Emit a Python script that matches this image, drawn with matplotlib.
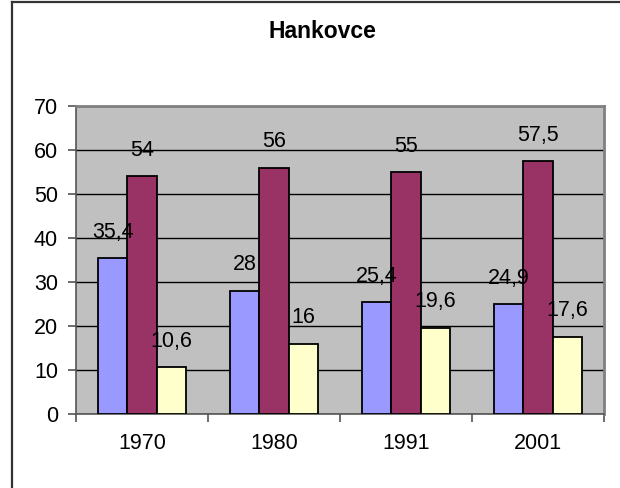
import matplotlib

matplotlib.use("Agg")
import matplotlib.pyplot as plt
from matplotlib.lines import Line2D
import numpy as np

YEARS = ["1970", "1980", "1991", "2001"]
SERIES_A = [35.4, 28, 25.4, 24.9]
SERIES_B = [54, 56, 55, 57.5]
SERIES_C = [10.6, 16, 19.6, 17.6]
COLORS = ["#9999FF", "#993366", "#FFFFCC"]
YTICKS = [0, 10, 20, 30, 40, 50, 60, 70]

plt.rcParams.update(
    {
        "font.family": ["Liberation Sans", "DejaVu Sans"],
        "font.size": 15,
    }
)

W, H = 620, 488
fig = plt.figure(figsize=(W / 100.0, H / 100.0), dpi=100)
fig.patch.set_facecolor("white")

# chart-area border (only top and left fall inside the picture)
fig.add_artist(Line2D([12 / W, 12 / W], [0, 1 - 2 / H], color="#333333", linewidth=1.6))
fig.add_artist(Line2D([12 / W, 1], [1 - 2 / H, 1 - 2 / H], color="#333333", linewidth=1.6))

left, right, top, bottom = 76, 604, 106, 414
ax = fig.add_axes([left / W, 1 - bottom / H, (right - left) / W, (bottom - top) / H])
ax.set_facecolor("#C0C0C0")

x = np.arange(len(YEARS))
width = 1 / 4.5
for i, (vals, color) in enumerate(zip([SERIES_A, SERIES_B, SERIES_C], COLORS)):
    pos = x + (i - 1) * width
    ax.bar(pos, vals, width=width, color=color, edgecolor="black", linewidth=1.3, zorder=3)
    for xp, v in zip(pos, vals):
        ax.annotate(
            "{:g}".format(v).replace(".", ","),
            xy=(xp, v),
            xytext=(0, 26),
            textcoords="offset pixels",
            ha="center",
            va="center",
            fontsize=15.5,
            zorder=4,
        )

ax.set_xlim(-0.5, len(YEARS) - 0.5)
ax.set_ylim(0, 70)
ax.set_yticks(YTICKS)
ax.yaxis.grid(True, color="black", linewidth=1.0, zorder=1)
ax.set_axisbelow(True)

ax.set_xticks(x)
ax.set_xticklabels(YEARS)
ax.set_xticks(np.arange(len(YEARS) + 1) - 0.5, minor=True)
ax.tick_params(axis="x", which="major", length=0, pad=14, labelsize=15.5)
ax.tick_params(axis="x", which="minor", length=6, width=1.2, color="#555555")
ax.tick_params(axis="y", length=6, width=1.2, color="#555555", pad=7, labelsize=15.5)

for side in ["left", "bottom"]:
    ax.spines[side].set_color("#555555")
    ax.spines[side].set_linewidth(1.2)
for side in ["top", "right"]:
    ax.spines[side].set_color("#808080")
    ax.spines[side].set_linewidth(2.0)

fig.text(322 / W, 1 - 32 / H, "Hankovce", ha="center", va="center", fontsize=16.5, fontweight="bold")

fig.savefig("out.png", dpi=100)
